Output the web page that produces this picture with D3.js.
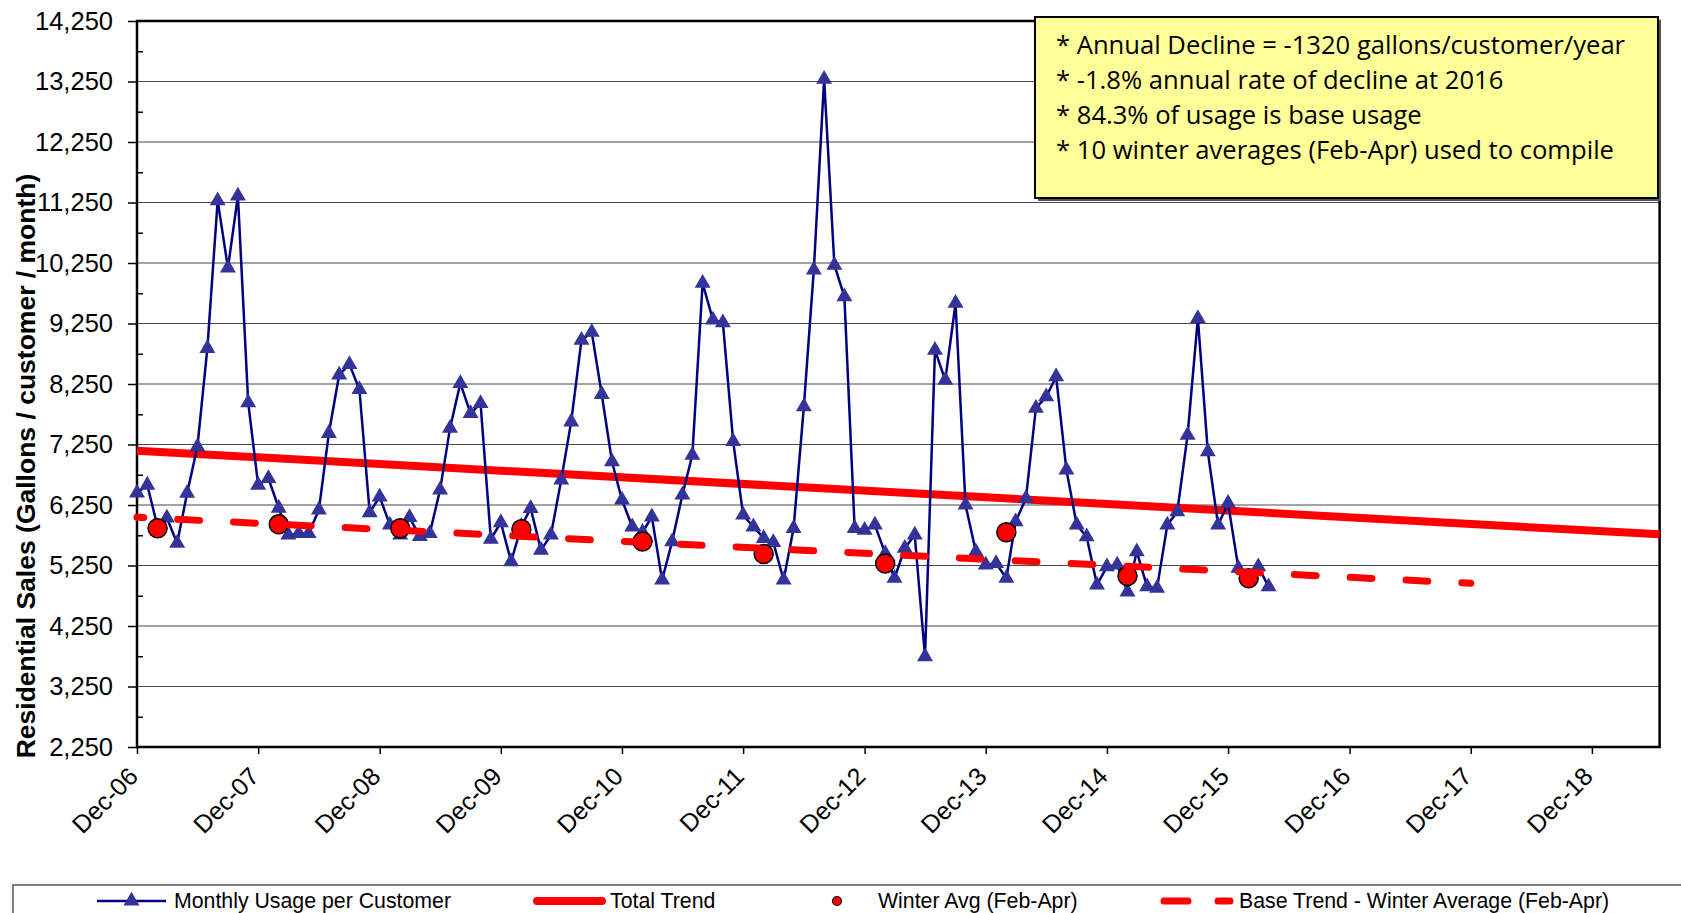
<!DOCTYPE html>
<html>
<head>
<meta charset="utf-8">
<script src="https://cdn.jsdelivr.net/npm/d3@7"></script>
<style>
  body { margin: 0; background: #fff; }
  svg text { font-family: Arial, "Liberation Sans", sans-serif; fill: #000; }
</style>
</head>
<body>
<div id="chart"></div>
<script>
var width = 1681, height = 913;

// monthly usage per customer, Dec-06 .. Apr-16
var usage = [
  6450, 6580, 5890, 6035, 5620, 6445, 7215, 8840, 11280, 10170, 11360, 7940,
  6580, 6690, 6200, 5755, 5780, 5780, 6170, 7435, 8400, 8575, 8160, 6125,
  6385, 5920, 5755, 6045, 5730, 5780, 6500, 7520, 8260, 7765, 7930, 5685,
  5960, 5315, 5900, 6195, 5505, 5755, 6665, 7625, 8975, 9105, 8080, 6965,
  6335, 5890, 5800, 6055, 5010, 5645, 6415, 7075, 9915, 9310, 9265, 7300,
  6085, 5890, 5700, 5630, 5010, 5865, 7875, 10135, 13290, 10215, 9695, 5865,
  5835, 5920, 5450, 5040, 5535, 5755, 3745, 8810, 8315, 9585, 6250, 5480,
  5260, 5285, 5040, 5975, 6360, 7850, 8040, 8370, 6830, 5920, 5725, 4930,
  5230, 5260, 4815, 5480, 4900, 4875, 5920, 6140, 7405, 9335, 7130, 5920,
  6280, 5205, 5040, 5230, 4900
];

// winter (Feb-Apr) averages, plotted at February
var winterYears = [2007, 2008, 2009, 2010, 2011, 2012, 2013, 2014, 2015, 2016];
var winterAvg = [5865, 5930, 5865, 5850, 5645, 5440, 5285, 5800, 5075, 5040];

var totalTrendDates = ['2006-12-01', '2019-06-23'];
var totalTrendValues = [7148, 5765];
var baseTrendDates = ['2006-12-01', '2017-12-01'];
var baseTrendValues = [6047, 4956];

var yTicks = [2250, 3250, 4250, 5250, 6250, 7250, 8250, 9250, 10250, 11250, 12250, 13250, 14250];
var yMinor = [2750, 3750, 4750, 5750, 6750, 7750, 8750, 9750, 10750, 11750, 12750, 13750];
var xTickYears = [2006, 2007, 2008, 2009, 2010, 2011, 2012, 2013, 2014, 2015, 2016, 2017, 2018];

var notes = [
  '* Annual Decline = -1320 gallons/customer/year',
  '* -1.8% annual rate of decline at 2016',
  '* 84.3% of usage is base usage',
  '* 10 winter averages (Feb-Apr) used to compile'
];
var legendLabels = ['Monthly Usage per Customer', 'Total Trend', 'Winter Avg (Feb-Apr)', 'Base Trend - Winter Average (Feb-Apr)'];

var plotL = 137, plotT = 21, plotR = 1659.6, plotB = 747;
var navy = '#000080', marker = '#333399', red = '#ff0000';

var svg = d3.select('#chart').append('svg')
  .attr('width', width)
  .attr('height', height);

svg.append('rect').attr('width', width).attr('height', height).attr('fill', '#fff');

var x = d3.scaleTime()
  .domain([new Date(2006, 11, 1), new Date(2019, 5, 23)])
  .range([plotL, plotR]);

var y = d3.scaleLinear()
  .domain([2250, 14250])
  .range([plotB, plotT]);

var monthly = usage.map(function(v, i) { return { date: new Date(2006, 11 + i, 1), value: v }; });
var winter = winterYears.map(function(yr, i) { return { date: new Date(yr, 1, 1), value: winterAvg[i] }; });
var totalTrend = totalTrendDates.map(function(d, i) { return { date: d3.timeParse('%Y-%m-%d')(d), value: totalTrendValues[i] }; });
var baseTrend = baseTrendDates.map(function(d, i) { return { date: d3.timeParse('%Y-%m-%d')(d), value: baseTrendValues[i] }; });

// gridlines
svg.append('g')
  .selectAll('line')
  .data(yTicks.slice(1, -1))
  .enter().append('line')
  .attr('x1', plotL).attr('x2', plotR)
  .attr('y1', function(d) { return y(d); })
  .attr('y2', function(d) { return y(d); })
  .attr('stroke', '#4a4a4a')
  .attr('stroke-width', 1.2);

// y axis
var yAxis = svg.append('g')
  .attr('transform', 'translate(' + plotL + ',0)')
  .call(d3.axisLeft(y).tickValues(yTicks).tickSize(9).tickPadding(15).tickFormat(d3.format(',')));
yAxis.select('.domain').remove();
yAxis.selectAll('.tick line').attr('stroke', '#000').attr('stroke-width', 1.5);
yAxis.selectAll('text').style('font-size', '25.5px').style('font-family', 'Arial, "Liberation Sans", sans-serif');

var yMinorAxis = svg.append('g')
  .attr('transform', 'translate(' + plotL + ',0)')
  .call(d3.axisRight(y).tickValues(yMinor).tickSize(6).tickFormat(''));
yMinorAxis.select('.domain').remove();
yMinorAxis.selectAll('.tick line').attr('stroke', '#000').attr('stroke-width', 1.5);

// x axis
var xAxis = svg.append('g')
  .attr('transform', 'translate(0,' + plotB + ')')
  .call(d3.axisBottom(x)
    .tickValues(xTickYears.map(function(yr) { return new Date(yr, 11, 1); }))
    .tickSize(7)
    .tickFormat(d3.timeFormat('%b-%y')));
xAxis.select('.domain').remove();
xAxis.selectAll('.tick line').attr('stroke', '#000').attr('stroke-width', 1.5);
xAxis.selectAll('text')
  .style('font-size', '25px')
  .style('font-family', 'Arial, "Liberation Sans", sans-serif')
  .attr('text-anchor', 'end')
  .attr('x', 0).attr('y', 0).attr('dy', 0)
  .attr('transform', 'translate(2,31) rotate(-45)');

// plot frame
svg.append('rect')
  .attr('x', plotL).attr('y', plotT)
  .attr('width', plotR - plotL).attr('height', plotB - plotT)
  .attr('fill', 'none').attr('stroke', '#000').attr('stroke-width', 2.5);

var line = d3.line()
  .x(function(d) { return x(d.date); })
  .y(function(d) { return y(d.value); });

// total trend
svg.append('path')
  .datum(totalTrend)
  .attr('d', line)
  .attr('fill', 'none')
  .attr('stroke', red)
  .attr('stroke-width', 8);

// monthly usage
svg.append('path')
  .datum(monthly)
  .attr('d', line)
  .attr('fill', 'none')
  .attr('stroke', navy)
  .attr('stroke-width', 2.5);

var tri = d3.symbol().type(d3.symbolTriangle).size(110);
svg.append('g')
  .selectAll('path')
  .data(monthly)
  .enter().append('path')
  .attr('d', tri)
  .attr('transform', function(d) { return 'translate(' + x(d.date) + ',' + y(d.value) + ')'; })
  .attr('fill', marker);

// winter averages
svg.append('g')
  .selectAll('circle')
  .data(winter)
  .enter().append('circle')
  .attr('cx', function(d) { return x(d.date); })
  .attr('cy', function(d) { return y(d.value); })
  .attr('r', 9.5)
  .attr('fill', red)
  .attr('stroke', '#000')
  .attr('stroke-width', 1.5);

// base trend
svg.append('path')
  .datum(baseTrend)
  .attr('d', line)
  .attr('fill', 'none')
  .attr('stroke', red)
  .attr('stroke-width', 7)
  .attr('stroke-linecap', 'round')
  .attr('stroke-dasharray', '21.8,34.1')
  .attr('stroke-dashoffset', 15.1);

// y title
svg.append('text')
  .attr('transform', 'translate(35,466) rotate(-90)')
  .attr('text-anchor', 'middle')
  .style('font-size', '26.5px')
  .style('font-weight', 'bold')
  .text('Residential Sales (Gallons / customer / month)');

// note box
var box = svg.append('g');
box.append('rect')
  .attr('x', 1038).attr('y', 20).attr('width', 623).attr('height', 181)
  .attr('fill', '#555');
box.append('rect')
  .attr('x', 1035).attr('y', 17).attr('width', 623).attr('height', 181)
  .attr('fill', '#ffff99').attr('stroke', '#000').attr('stroke-width', 2);
box.selectAll('text')
  .data(notes)
  .enter().append('text')
  .attr('x', 1056)
  .attr('y', function(d, i) { return 54 + i * 35; })
  .style('font-family', '"Open Sans", sans-serif')
  .style('font-size', '25.6px')
  .text(function(d) { return d; });

// legend
var lg = svg.append('g');
lg.append('rect')
  .attr('x', 13).attr('y', 885).attr('width', 1700).attr('height', 80)
  .attr('fill', 'none').attr('stroke', '#808080').attr('stroke-width', 2);

var ly = 901;
lg.append('line').attr('x1', 97).attr('x2', 166).attr('y1', ly).attr('y2', ly)
  .attr('stroke', navy).attr('stroke-width', 2.5);
lg.append('path').attr('d', tri).attr('transform', 'translate(131.5,' + ly + ')').attr('fill', marker);

lg.append('line').attr('x1', 537).attr('x2', 602).attr('y1', ly).attr('y2', ly)
  .attr('stroke', red).attr('stroke-width', 8).attr('stroke-linecap', 'round');

lg.append('circle').attr('cx', 837).attr('cy', ly).attr('r', 4.5)
  .attr('fill', red).attr('stroke', '#000').attr('stroke-width', 1.2);

lg.append('line').attr('x1', 1164).attr('x2', 1230).attr('y1', ly).attr('y2', ly)
  .attr('stroke', red).attr('stroke-width', 7).attr('stroke-linecap', 'round')
  .attr('stroke-dasharray', '24,30');

var legendX = [174, 610, 878, 1239];
lg.selectAll('text.lab')
  .data(legendLabels)
  .enter().append('text')
  .attr('class', 'lab')
  .attr('x', function(d, i) { return legendX[i]; })
  .attr('y', 908)
  .style('font-size', '21.3px')
  .text(function(d) { return d; });
</script>
</body>
</html>
